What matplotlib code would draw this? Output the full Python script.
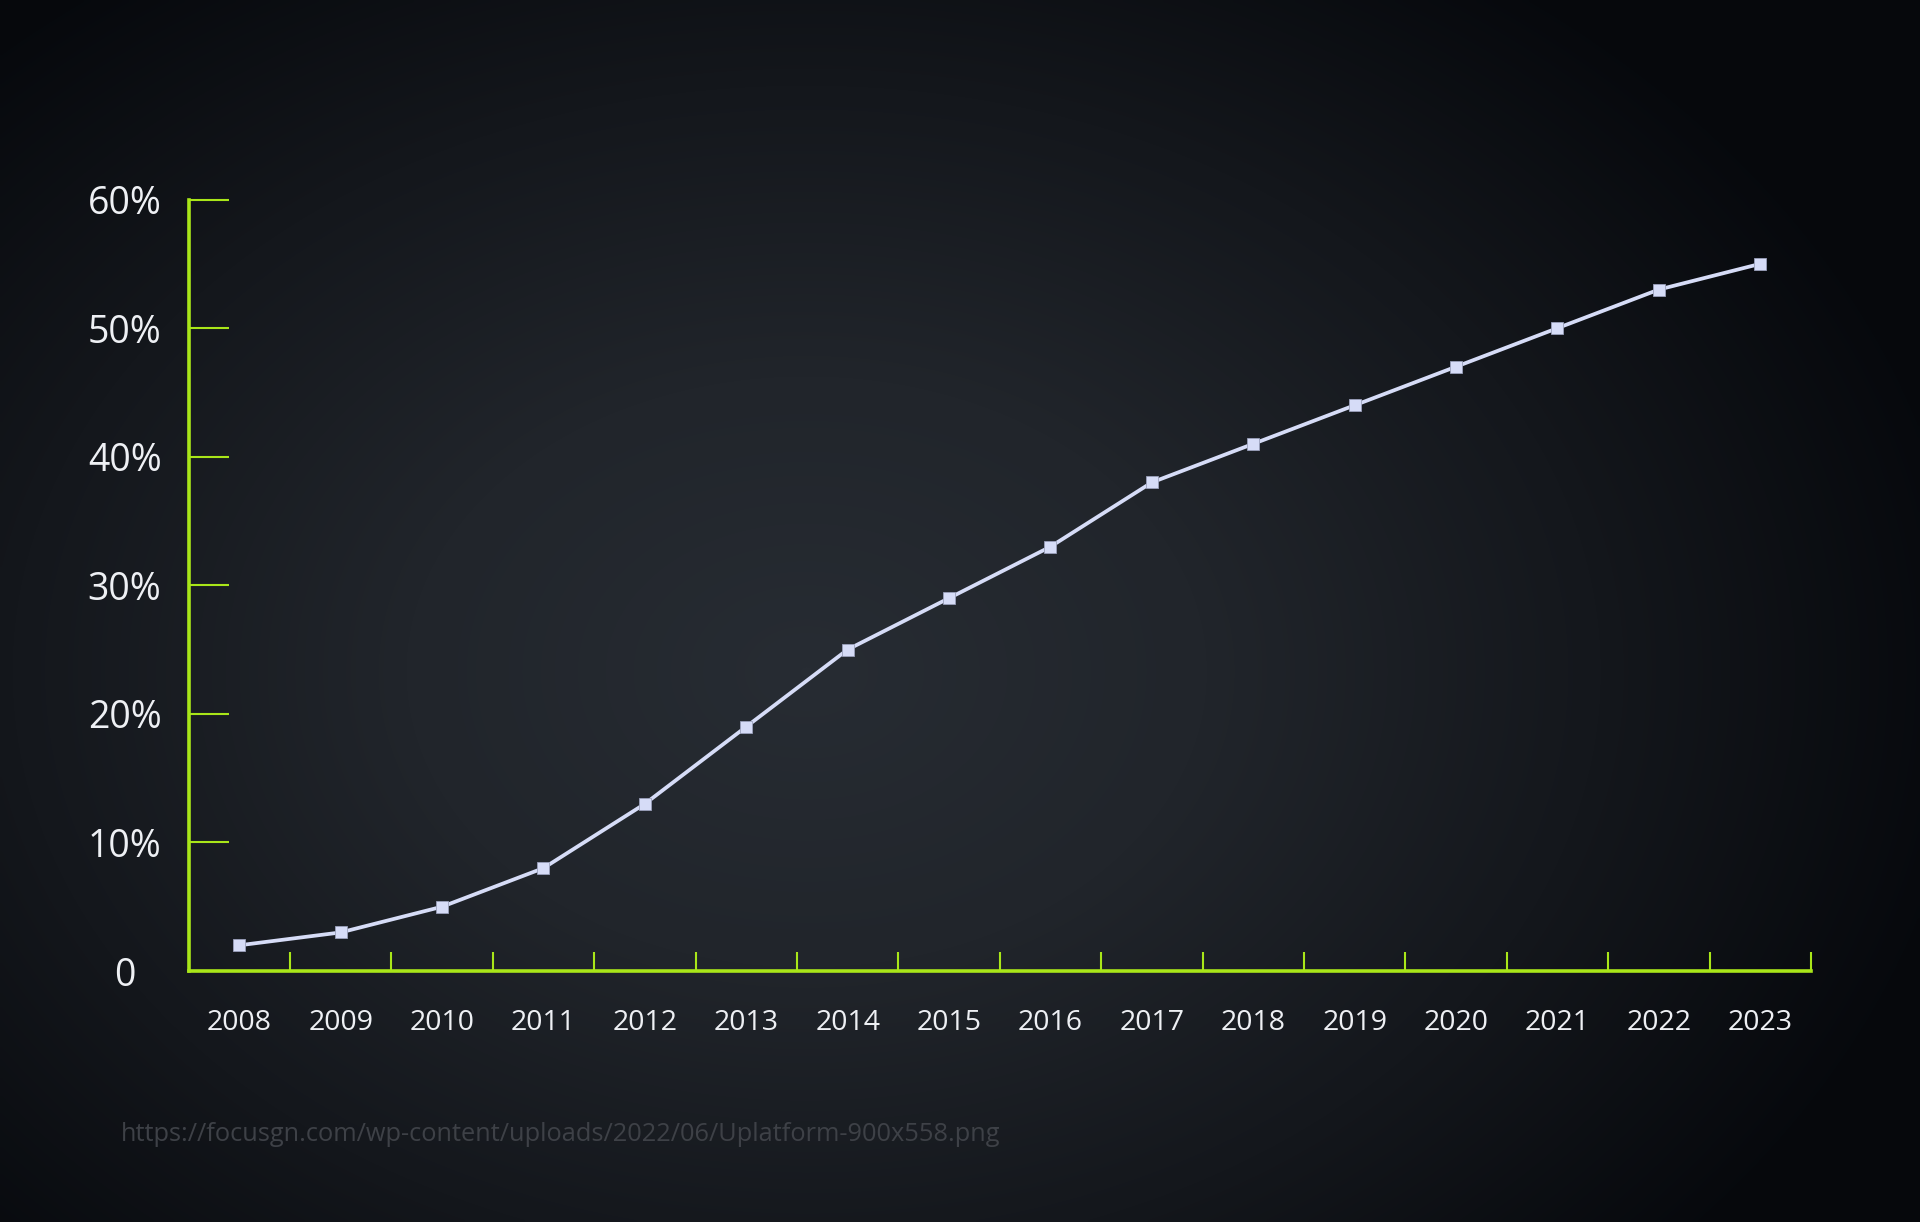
import numpy as np
import matplotlib.pyplot as plt
from matplotlib.colors import LinearSegmentedColormap

years = ['2008', '2009', '2010', '2011', '2012', '2013', '2014', '2015',
         '2016', '2017', '2018', '2019', '2020', '2021', '2022', '2023']
share = [2, 3, 5, 8, 13, 19, 25, 29, 33, 38, 41, 44, 47, 50, 53, 55]
y_ticks = [0, 10, 20, 30, 40, 50, 60]
y_labels = ['0', '10%', '20%', '30%', '40%', '50%', '60%']
source = 'https://focusgn.com/wp-content/uploads/2022/06/Uplatform-900x558.png'

green = '#a9e619'
line_col = '#d6dcf7'
plt.rcParams['font.family'] = ['Open Sans', 'DejaVu Sans']

fig = plt.figure(figsize=(19.2, 12.22), dpi=100)

# dark radial background
bg = fig.add_axes([0, 0, 1, 1])
gx, gy = np.meshgrid(np.linspace(0, 1, 480), np.linspace(0, 1, 306))
r = np.sqrt(((gx - 0.42) / 0.62) ** 2 + ((gy - 0.55) / 0.72) ** 2)
r = np.clip(r, 0, 1)
cmap = LinearSegmentedColormap.from_list('bg', ['#272c33', '#21252b', '#14171c', '#06080c'])
bg.imshow(r, cmap=cmap, aspect='auto', extent=[0, 1, 0, 1], origin='upper',
          interpolation='bilinear')
bg.axis('off')

ax = fig.add_axes([0.0982, 0.2054, 0.845, 0.6313])
ax.patch.set_alpha(0)
x = np.arange(len(years))
ax.plot(x, share, color=line_col, lw=2.7, marker='s', ms=9,
        mfc=line_col, mec='#9aa0bb', mew=0.6, zorder=3)

ax.set_xlim(-0.5, len(years) - 0.5)
ax.set_ylim(0, 60)
for s in ['top', 'right']:
    ax.spines[s].set_visible(False)
for s in ['left', 'bottom']:
    ax.spines[s].set_color(green)
    ax.spines[s].set_linewidth(2.6)

ax.set_yticks(y_ticks)
ax.set_yticklabels(y_labels)
ax.tick_params(axis='y', direction='in', length=28.8, width=1.5, color=green,
               labelcolor='#eef0f4', labelsize=27, pad=46)
for t in ax.get_yticklabels():
    t.set_horizontalalignment('center')

ax.set_xticks(np.arange(0.5, len(years), 1))
ax.set_xticklabels([])
ax.set_xticks(x, minor=True)
ax.set_xticklabels(years, minor=True)
ax.tick_params(axis='x', which='major', direction='in', length=13.7, width=1.5, color=green)
ax.tick_params(axis='x', which='minor', length=0, labelcolor='#eef0f4', labelsize=20.5, pad=27)

fig.text(0.063, 0.072, source, color='#3e4147', fontsize=18.3, va='center', ha='left')

fig.savefig('out.png', dpi=100)
